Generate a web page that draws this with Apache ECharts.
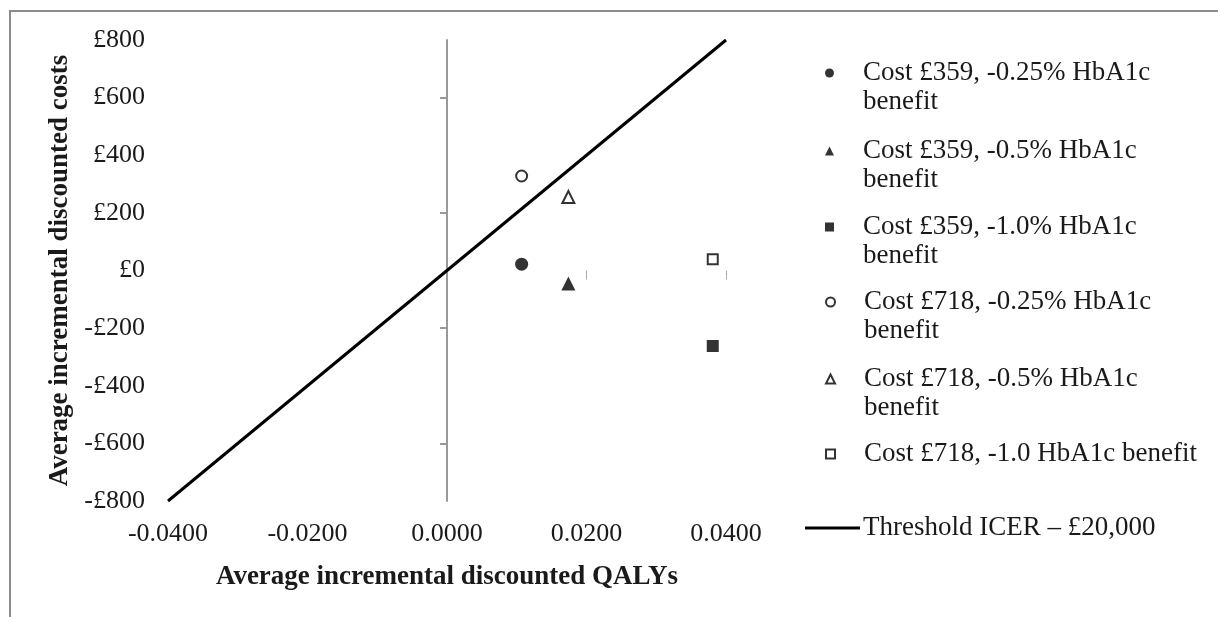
<!DOCTYPE html>
<html>
<head>
<meta charset="utf-8">
<script src="https://cdn.jsdelivr.net/npm/echarts@6/dist/echarts.min.js"></script>
<style>
html,body{margin:0;padding:0;background:#fff;}
#chart{width:1218px;height:617px;}
</style>
</head>
<body>
<div id="chart"></div>
<script>
// ---- data ----
const seriesNames = [
  'Cost £359, -0.25% HbA1c benefit',
  'Cost £359, -0.5% HbA1c benefit',
  'Cost £359, -1.0% HbA1c benefit',
  'Cost £718, -0.25% HbA1c benefit',
  'Cost £718, -0.5% HbA1c benefit',
  'Cost £718, -1.0 HbA1c benefit'
];
const qalys = [0.0107, 0.0174, 0.0381, 0.0107, 0.0174, 0.0381];
const costs = [22, -45, -262, 328, 255, 39];
const symbols = ['circle', 'triangle', 'rect', 'circle', 'triangle', 'rect'];
const hollow = [false, false, false, true, true, true];
const thresholdName = 'Threshold ICER – £20,000';
const thresholdX = [-0.04, 0.04];
const thresholdY = [-800, 800];
const xTicks = [-0.04, -0.02, 0, 0.02, 0.04];
const yTicks = [-800, -600, -400, -200, 0, 200, 400, 600, 800];
const xMinorTicks = [0.02, 0.04];
const yMinorTicks = [600, 200, -200, -600];

// ---- chart ----
const FONT = 'Liberation Serif';
const TXT = '#1a1a1a';
const FS = 26;
const LFS = 27;
const chart = echarts.init(document.getElementById('chart'), null, {renderer: 'canvas'});

const symbolSizes = {circle: 13, triangle: 14, rect: 12};
const series = seriesNames.map((name, i) => ({
  name: name,
  type: 'scatter',
  symbol: symbols[i],
  symbolSize: hollow[i] ? symbolSizes[symbols[i]] - 2 : symbolSizes[symbols[i]],
  data: [[qalys[i], costs[i]]],
  itemStyle: hollow[i]
    ? {color: '#fff', borderColor: '#000', borderWidth: 2}
    : {color: '#000'},
  z: 5
}));
series.push({
  name: thresholdName,
  type: 'line',
  symbol: 'none',
  data: thresholdX.map((x, i) => [x, thresholdY[i]]),
  lineStyle: {color: '#000', width: 3},
  itemStyle: {color: '#000'},
  z: 3
});

const legendCenters = [73, 151, 227, 302, 379, 454];
const LH = 29;
const legends = seriesNames.map((name, i) => {
  const twoLine = name.indexOf('1.0 HbA1c') < 0;
  return {
    data: [name],
    left: 825,
    top: twoLine ? legendCenters[i] - 3 * LH / 2 : legendCenters[i] - LH / 2,
    padding: 0,
    itemWidth: 9,
    itemHeight: 9,
    selectedMode: false,
    formatter: n => twoLine ? ' \n' + n.replace(' benefit', '\nbenefit') : n,
    textStyle: {
      fontFamily: FONT, fontSize: LFS, color: TXT, lineHeight: LH,
      padding: [0, 0, 0, 24]
    }
  };
});
legends.push({
  data: [{name: thresholdName, icon: 'rect'}],
  left: 805,
  top: 528 - LH / 2,
  padding: 0,
  itemWidth: 55,
  itemHeight: 3,
  selectedMode: false,
  itemStyle: {color: '#000'},
  textStyle: {fontFamily: FONT, fontSize: LFS, color: TXT, lineHeight: LH, padding: [0, 0, 0, -2]}
});

const option = {
  backgroundColor: '#fff',
  animation: false,
  graphic: [{
    type: 'rect', shape: {x: 10, y: 11, width: 1400, height: 800},
    style: {fill: 'none', stroke: '#8c8c8c', lineWidth: 2}, silent: true
  }],
  grid: {left: 168, right: 492, top: 40, bottom: 116},
  xAxis: [{
    type: 'value', min: -0.04, max: 0.04, interval: 0.02,
    position: 'bottom',
    axisLine: {show: false, onZero: false},
    axisTick: {show: false},
    splitLine: {show: false},
    axisLabel: {
      fontFamily: FONT, fontSize: FS, color: TXT, margin: 20,
      formatter: v => v.toFixed(4)
    },
    name: 'Average incremental discounted QALYs',
    nameLocation: 'middle', nameGap: 63,
    nameTextStyle: {fontFamily: FONT, fontSize: 27, fontWeight: 'bold', color: TXT}
  }, {
    type: 'value', min: -0.04, max: 0.04, interval: 0.02,
    position: 'bottom',
    axisLine: {show: true, onZero: true, lineStyle: {color: 'rgba(0,0,0,0)'}},
    axisTick: {show: true, customValues: xMinorTicks, length: 9, lineStyle: {color: '#aaa', width: 1}},
    axisLabel: {show: false},
    splitLine: {show: false}
  }],
  yAxis: [{
    type: 'value', min: -800, max: 800, interval: 200,
    position: 'left',
    axisLine: {show: false, onZero: false},
    axisTick: {show: false},
    splitLine: {show: false},
    axisLabel: {
      fontFamily: FONT, fontSize: FS, color: TXT, margin: 23,
      formatter: v => (v < 0 ? '-£' : '£') + Math.abs(v)
    },
    name: 'Average incremental discounted costs',
    nameLocation: 'middle', nameGap: 94,
    nameTextStyle: {fontFamily: FONT, fontSize: 27, fontWeight: 'bold', color: TXT}
  }, {
    type: 'value', min: -800, max: 800, interval: 200,
    position: 'left',
    axisLine: {show: true, onZero: true, lineStyle: {color: '#999', width: 2}},
    axisTick: {show: true, customValues: yMinorTicks, length: 7, lineStyle: {color: '#999', width: 2}},
    axisLabel: {show: false},
    splitLine: {show: false}
  }],
  legend: legends,
  series: series
};
chart.setOption(option);
</script>
</body>
</html>
